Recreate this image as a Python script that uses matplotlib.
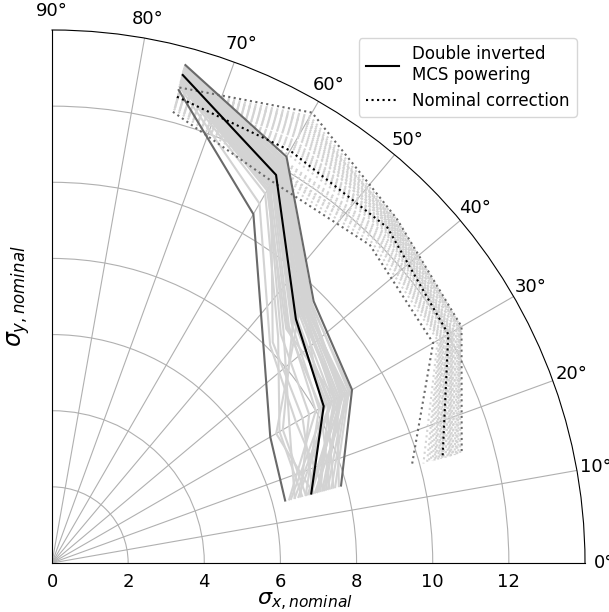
import numpy as np
import matplotlib.pyplot as plt

# angles of the five points on every curve (degrees)
angles = [75, 60, 45, 30, 15]

# double inverted MCS powering: nominal, upper and lower envelopes
mcs_nominal = [13.27, 11.77, 9.06, 8.24, 7.05]
mcs_max = [13.54, 12.32, 9.72, 9.10, 7.86]
mcs_min = [12.86, 10.58, 7.87, 6.62, 6.34]

# nominal correction: nominal, upper and lower envelopes
corr_nominal = [12.68, 12.51, 12.46, 12.02, 10.62]
corr_max = [12.93, 13.66, 12.80, 12.42, 11.14]
corr_min = [12.27, 11.57, 11.81, 11.56, 9.78]

# individual error seeds, MCS powering
mcs_samples = [
    [13.30, 11.90, 9.30, 8.60, 7.20],
    [13.40, 12.10, 9.50, 8.90, 7.50],
    [13.20, 11.60, 8.90, 8.10, 6.90],
    [13.45, 12.20, 9.60, 8.80, 7.40],
    [13.10, 11.40, 8.60, 7.20, 6.60],
    [13.35, 11.95, 9.40, 8.70, 7.00],
    [13.25, 11.80, 9.10, 8.40, 7.30],
    [13.50, 12.25, 9.65, 9.00, 7.70],
    [13.00, 11.20, 8.40, 6.90, 6.80],
    [13.30, 11.85, 9.20, 8.50, 6.70],
    [13.15, 11.50, 8.20, 7.60, 7.10],
    [13.40, 12.05, 9.45, 8.95, 7.60],
    [13.28, 11.70, 9.00, 8.30, 6.50],
    [13.05, 11.30, 8.70, 8.60, 7.20],
    [13.38, 12.00, 9.35, 8.20, 7.00],
    [13.22, 11.65, 8.95, 7.00, 6.90],
    [13.45, 12.15, 9.55, 8.75, 7.35],
    [12.95, 10.90, 8.10, 7.40, 7.40],
    [13.32, 11.88, 9.25, 8.65, 7.80],
    [13.18, 11.55, 8.80, 8.00, 6.45],
    [13.42, 12.08, 9.50, 8.85, 6.95],
    [13.27, 11.75, 9.15, 6.80, 7.10],
    [13.36, 11.98, 9.38, 8.55, 7.25],
    [13.12, 11.45, 8.75, 8.15, 7.55],
    [13.48, 12.22, 9.62, 9.05, 7.15],
    [13.24, 11.68, 9.05, 8.45, 6.60],
    [13.08, 11.35, 8.50, 7.80, 6.75],
    [13.34, 11.92, 9.28, 8.70, 7.45],
    [13.20, 11.62, 8.98, 8.35, 7.65],
    [13.40, 12.02, 9.42, 8.80, 7.05],
]

# individual error seeds, nominal correction
corr_samples = [
    [12.70, 12.90, 12.55, 12.10, 10.70],
    [12.80, 13.30, 12.65, 12.25, 10.90],
    [12.55, 12.20, 12.30, 11.90, 10.45],
    [12.85, 13.50, 12.72, 12.35, 11.05],
    [12.40, 11.80, 12.00, 11.75, 10.20],
    [12.75, 13.10, 12.60, 12.15, 10.80],
    [12.62, 12.60, 12.40, 12.00, 10.55],
    [12.88, 13.40, 12.75, 12.38, 11.10],
    [12.45, 11.95, 12.10, 11.80, 10.30],
    [12.68, 12.80, 12.50, 12.05, 10.65],
    [12.78, 13.20, 12.62, 12.20, 10.85],
    [12.50, 12.05, 12.20, 11.85, 10.40],
    [12.72, 13.00, 12.58, 12.12, 10.75],
    [12.82, 13.35, 12.68, 12.30, 10.95],
    [12.58, 12.40, 12.35, 11.95, 10.50],
    [12.65, 12.70, 12.45, 12.08, 10.60],
    [12.90, 13.55, 12.78, 12.40, 11.00],
    [12.35, 11.70, 11.90, 11.70, 10.10],
    [12.76, 13.15, 12.63, 12.18, 10.82],
    [12.60, 12.50, 12.38, 11.98, 10.52],
    [12.84, 13.45, 12.70, 12.33, 10.98],
    [12.48, 11.90, 12.15, 11.82, 10.35],
    [12.70, 12.95, 12.52, 12.09, 10.70],
    [12.80, 13.25, 12.66, 12.26, 10.88],
    [12.66, 12.75, 12.48, 12.04, 10.62],
    [12.53, 12.15, 12.25, 11.88, 10.42],
    [12.86, 13.38, 12.73, 12.36, 11.02],
    [12.74, 13.05, 12.56, 12.14, 10.78],
    [12.42, 11.85, 12.05, 11.78, 10.25],
    [12.63, 12.65, 12.42, 12.02, 10.58],
]

theta = np.radians(angles)

fig = plt.figure(figsize=(6.09, 6.12), dpi=100)
ax = fig.add_axes([52/609, 49/612, 533/609, 533/612], projection='polar')
ax.set_thetamin(0)
ax.set_thetamax(90)
ax.set_rlim(0, 14)
ax.set_rticks([0, 2, 4, 6, 8, 10, 12])
ax.set_thetagrids(range(0, 91, 10))
ax.tick_params(labelsize=13)
ax.grid(True, color='#b0b0b0', lw=0.8)

# seeds first so the nominal curves sit on top
for s in mcs_samples:
    ax.plot(theta, s, color='lightgrey', lw=1.5)
for s in corr_samples:
    ax.plot(theta, s, color='lightgrey', lw=1.5, ls=':')

ax.plot(theta, mcs_max, color='dimgray', lw=1.5)
ax.plot(theta, mcs_min, color='dimgray', lw=1.5)
ax.plot(theta, corr_max, color='dimgray', lw=1.5, ls=':')
ax.plot(theta, corr_min, color='dimgray', lw=1.5, ls=':')

ax.plot(theta, mcs_nominal, color='black', lw=1.5,
        label='Double inverted\nMCS powering')
ax.plot(theta, corr_nominal, color='black', lw=1.5, ls=':',
        label='Nominal correction')

ax.legend(loc='upper right', fontsize=12)

fig.text(305/609, 1 - 601.5/612, r'$\sigma_{x,nominal}$', fontsize=16,
         ha='center', va='center')
fig.text(19/609, 1 - 296/612, r'$\sigma_{y,nominal}$', fontsize=17,
         ha='center', va='center', rotation=90)

fig.savefig('out.png', dpi=100)
